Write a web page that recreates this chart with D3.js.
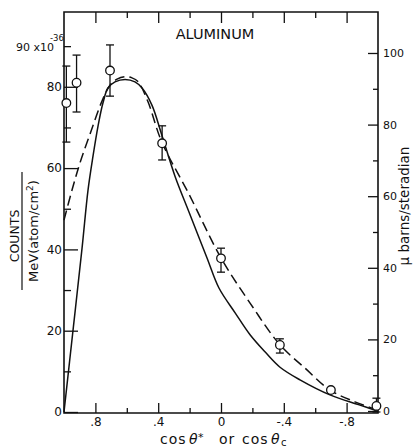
<!DOCTYPE html>
<html>
<head>
<meta charset="utf-8">
<script src="https://cdn.jsdelivr.net/npm/d3@7"></script>
<style>
  html, body { margin: 0; padding: 0; background: #fff; }
  svg { display: block; }
</style>
</head>
<body>
<svg id="chart" width="413" height="448"></svg>
<script>
// Measured counts (left scale, units of 1e-36) with error limits
const pointCos  = [0.985, 0.92, 0.707, 0.375, 0, -0.375, -0.7, -0.99];
const pointVal  = [76.0, 81.0, 84.0, 66.1, 37.8, 16.5, 5.4, 1.5];
const errLow    = [66.4, 73.8, 77.7, 62.0, 34.4, 14.5, 5.4, 0];
const errHigh   = [85.1, 87.8, 90.3, 70.4, 40.3, 18.0, 5.4, 3.4];

// Calculated distribution, cos theta* (solid)
const solidCos = [1.0, 0.94, 0.885, 0.847, 0.815, 0.783, 0.752, 0.72, 0.675, 0.611, 0.548, 0.503,
                  0.44, 0.376, 0.293, 0.204, 0.089, 0.013, -0.09, -0.185, -0.28, -0.376, -0.503,
                  -0.694, -0.885, -1.0];
const solidVal = [0, 21, 40.3, 54.6, 63, 70.4, 76, 79.7, 81.2, 81.8, 81.2, 79.7,
                  75.5, 68, 58, 49.2, 37.9, 30.5, 24.4, 19, 14.8, 11, 7.9,
                  4.2, 1.7, 0.2];

// Calculated distribution, cos theta_c (dashed)
const dashedCos = [1.0, 0.949, 0.898, 0.834, 0.76, 0.707, 0.662, 0.611, 0.567, 0.529, 0.465,
                   0.378, 0.204, 0, -0.185, -0.376, -0.535, -0.694, -0.853, -1.0];
const dashedVal = [47.2, 54.6, 61.3, 68.4, 76.3, 80.4, 81.9, 82.5, 82.2, 81.3, 76.3,
                   66.5, 53.6, 37.9, 26.8, 16.5, 10.8, 5.4, 2.5, 0.5];

// Axis ticks and labels
const xMajorTicks  = [0.8, 0.4, 0, -0.4, -0.8];
const xMajorLabels = [".8", ".4", "0", "-.4", "-.8"];
const xMinorTicks  = [0.6, 0.2, -0.2, -0.6];
const leftMajorTicks  = [0, 20, 40, 60, 80];
const leftMinorTicks  = [10, 30, 50, 70, 90];
const rightMajorTicks = [0, 20, 40, 60, 80, 100];
const rightMinorTicks = [10, 30, 50, 70, 90];

const FONT = "DejaVu Sans, Liberation Sans, sans-serif";
const INK = "#111";

const svg = d3.select("#chart");
svg.append("rect").attr("width", 413).attr("height", 448).attr("fill", "#fff");

const x  = d3.scaleLinear().domain([1, -1]).range([64, 378]);
const yL = d3.scaleLinear().domain([0, 98.4]).range([412, 12]);
const yR = d3.scaleLinear().domain([0, 111.45]).range([411, 12]);

function styleAxis(g, size) {
  g.select(".domain").remove();
  g.attr("font-family", FONT).attr("font-size", size);
  g.selectAll("line").attr("stroke", INK).attr("stroke-width", 1.3);
  g.selectAll("text").attr("fill", INK);
}

// bottom axis
svg.append("g").attr("transform", "translate(0,413)")
  .call(d3.axisBottom(x).tickValues(xMajorTicks)
        .tickFormat((d, i) => xMajorLabels[i])
        .tickSizeInner(-10).tickSizeOuter(0).tickPadding(4))
  .call(g => styleAxis(g, 12));
svg.append("g").attr("transform", "translate(0,413)")
  .call(d3.axisBottom(x).tickValues(xMinorTicks).tickFormat("")
        .tickSizeInner(-5).tickSizeOuter(0))
  .call(g => styleAxis(g, 12));

// top axis
svg.append("g").attr("transform", "translate(0,12)")
  .call(d3.axisTop(x).tickValues(xMajorTicks).tickFormat("")
        .tickSizeInner(-11).tickSizeOuter(0))
  .call(g => styleAxis(g, 12));
svg.append("g").attr("transform", "translate(0,12)")
  .call(d3.axisTop(x).tickValues(xMinorTicks).tickFormat("")
        .tickSizeInner(-6).tickSizeOuter(0))
  .call(g => styleAxis(g, 12));

// left axis
svg.append("g").attr("transform", "translate(64,0)")
  .call(d3.axisLeft(yL).tickValues(leftMajorTicks)
        .tickSizeInner(-14).tickSizeOuter(0).tickPadding(2))
  .call(g => styleAxis(g, 12));
svg.append("g").attr("transform", "translate(64,0)")
  .call(d3.axisLeft(yL).tickValues(leftMinorTicks).tickFormat("")
        .tickSizeInner(-7).tickSizeOuter(0))
  .call(g => styleAxis(g, 12));

// right axis
svg.append("g").attr("transform", "translate(378,0)")
  .call(d3.axisRight(yR).tickValues(rightMajorTicks)
        .tickSizeInner(-10).tickSizeOuter(0).tickPadding(5))
  .call(g => styleAxis(g, 11));
svg.append("g").attr("transform", "translate(378,0)")
  .call(d3.axisRight(yR).tickValues(rightMinorTicks).tickFormat("")
        .tickSizeInner(-5).tickSizeOuter(0))
  .call(g => styleAxis(g, 11));

// frame
svg.append("path")
  .attr("d", `M${x(1)},${yL.range()[1]}H${x(-1)}V413H${x(1)}Z`)
  .attr("fill", "none").attr("stroke", INK).attr("stroke-width", 1.6);

// scale exponent on the left axis
svg.append("text").attr("x", 16).attr("y", yL(90) + 5)
  .attr("font-family", FONT).attr("font-size", 11).attr("fill", INK)
  .text("90 x10");
svg.append("text").attr("x", 50).attr("y", 41)
  .attr("font-family", FONT).attr("font-size", 8.5).attr("fill", INK)
  .text("-36");

// curves
const line = d3.line()
  .x(d => x(d[0])).y(d => yL(d[1]))
  .curve(d3.curveCatmullRom.alpha(0.5));

svg.append("path")
  .datum(d3.zip(solidCos, solidVal))
  .attr("d", line)
  .attr("fill", "none").attr("stroke", INK).attr("stroke-width", 1.5);

svg.append("path")
  .datum(d3.zip(dashedCos, dashedVal))
  .attr("d", line)
  .attr("fill", "none").attr("stroke", INK).attr("stroke-width", 1.5)
  .attr("stroke-dasharray", "10,5");

// data points with error bars
const pts = pointCos.map((c, i) => ({ c, v: pointVal[i], lo: errLow[i], hi: errHigh[i] }));
const pg = svg.append("g").attr("stroke", INK).attr("stroke-width", 1.3);
pts.filter(d => d.hi > d.lo).forEach(d => {
  const px = x(d.c);
  pg.append("line").attr("x1", px).attr("x2", px).attr("y1", yL(d.hi)).attr("y2", yL(d.lo));
  pg.append("line").attr("x1", px - 4).attr("x2", px + 4).attr("y1", yL(d.hi)).attr("y2", yL(d.hi));
  pg.append("line").attr("x1", px - 4).attr("x2", px + 4).attr("y1", yL(d.lo)).attr("y2", yL(d.lo));
});
pg.selectAll("circle").data(pts).join("circle")
  .attr("cx", d => x(d.c)).attr("cy", d => yL(d.v)).attr("r", 4.3)
  .attr("fill", "#fff");

// title
svg.append("text").attr("x", 215).attr("y", 39).attr("text-anchor", "middle")
  .attr("font-family", FONT).attr("font-size", 14.5).attr("fill", INK)
  .text("ALUMINUM");

// left axis title (fraction)
svg.append("text").attr("transform", "translate(18.5,236) rotate(-90)")
  .attr("text-anchor", "middle").attr("font-family", FONT).attr("font-size", 12.5)
  .attr("fill", INK).text("COUNTS");
svg.append("line").attr("x1", 22).attr("x2", 22).attr("y1", 172).attr("y2", 290)
  .attr("stroke", INK).attr("stroke-width", 1.2);
const mev = svg.append("text").attr("transform", "translate(37.5,231) rotate(-90)")
  .attr("text-anchor", "middle").attr("font-family", FONT).attr("font-size", 13)
  .attr("fill", INK);
mev.append("tspan").text("MeV(atom/cm");
mev.append("tspan").attr("dy", -5).attr("font-size", 9).text("2");
mev.append("tspan").attr("dy", 5).text(")");

// right axis title
svg.append("text").attr("transform", "translate(409,206) rotate(-90)")
  .attr("text-anchor", "middle").attr("font-family", FONT).attr("font-size", 13.5)
  .attr("fill", INK).text("\u03bc barns/steradian");

// x axis title
const xt = svg.append("g").attr("font-family", FONT).attr("fill", INK);
xt.append("text").attr("x", 160).attr("y", 443.5).attr("font-size", 14)
  .attr("letter-spacing", 1).text("cos");
xt.append("text").attr("x", 189).attr("y", 443.5).attr("font-size", 14)
  .attr("font-style", "italic").text("\u03b8");
xt.append("text").attr("x", 198).attr("y", 441).attr("font-size", 11).text("*");
xt.append("text").attr("x", 219).attr("y", 443.5).attr("font-size", 14)
  .attr("letter-spacing", 1).text("or");
xt.append("text").attr("x", 242).attr("y", 443.5).attr("font-size", 14)
  .attr("letter-spacing", 1).text("cos");
xt.append("text").attr("x", 271).attr("y", 443.5).attr("font-size", 14)
  .attr("font-style", "italic").text("\u03b8");
xt.append("text").attr("x", 281).attr("y", 446).attr("font-size", 10).text("c");
</script>
</body>
</html>
